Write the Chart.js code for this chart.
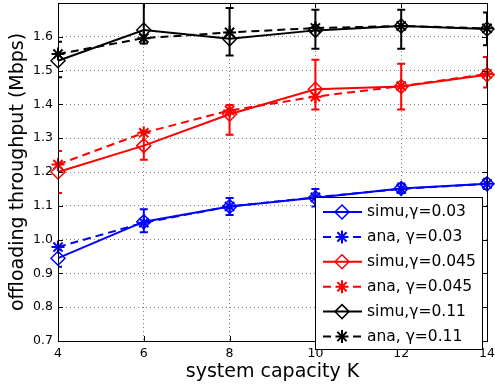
<!DOCTYPE html>
<html>
<head>
<meta charset="utf-8">
<script src="https://cdn.jsdelivr.net/npm/chart.js@4"></script>
<style>
  body { margin: 0; background: #fff; }
  canvas { display: block; }
</style>
</head>
<body>
<canvas id="myChart" width="495" height="389"></canvas>
<script>
// data
const capacity = [4, 6, 8, 10, 12, 14];
const xTicks = [4, 6, 8, 10, 12, 14];
const yTicks = [0.7, 0.8, 0.9, 1.0, 1.1, 1.2, 1.3, 1.4, 1.5, 1.6];

const simu003 = [0.945, 1.053, 1.098, 1.124, 1.151, 1.165];
const simu003Lo = [0.920, 1.022, 1.073, 1.098, 1.138, 1.150];
const simu003Hi = [0.970, 1.090, 1.123, 1.150, 1.166, 1.180];
const ana003 = [0.978, 1.050, 1.098, 1.125, 1.150, 1.165];

const simu0045 = [1.200, 1.278, 1.371, 1.445, 1.453, 1.488];
const simu0045Lo = [1.138, 1.236, 1.310, 1.385, 1.385, 1.450];
const simu0045Hi = [1.262, 1.322, 1.398, 1.532, 1.520, 1.540];
const ana0045 = [1.222, 1.316, 1.382, 1.423, 1.454, 1.490];

const simu011 = [1.529, 1.620, 1.594, 1.619, 1.632, 1.623];
const simu011Lo = [1.480, 1.580, 1.545, 1.565, 1.565, 1.575];
const simu011Hi = [1.585, 1.720, 1.685, 1.680, 1.680, 1.672];
const ana011 = [1.549, 1.596, 1.613, 1.626, 1.632, 1.625];

const FONT = 'DejaVu Sans';

function toPoints(values) {
  return capacity.map((k, i) => ({ x: k, y: values[i] }));
}

function simuSet(label, values, lo, hi, color) {
  return {
    label,
    data: toPoints(values),
    borderColor: color,
    borderWidth: 2,
    pointStyle: 'rectRot',
    pointRadius: 7,
    pointBorderWidth: 1.5,
    pointBackgroundColor: 'rgba(0,0,0,0)',
    pointBorderColor: color,
    errLo: lo,
    errHi: hi,
    clip: false,
  };
}

function anaSet(label, values, color) {
  return {
    label,
    data: toPoints(values),
    borderColor: color,
    borderWidth: 2,
    borderDash: [8, 5],
    pointStyle: 'star',
    pointRadius: 6.5,
    pointBorderWidth: 2,
    pointBorderColor: color,
    clip: false,
  };
}

// MATLAB style error bars, clipped to the axes box
const errorBars = {
  id: 'errorBars',
  beforeDatasetsDraw(chart) {
    const { ctx, chartArea: a, scales: { x, y } } = chart;
    ctx.save();
    ctx.beginPath();
    ctx.rect(a.left, a.top, a.right - a.left, a.bottom - a.top);
    ctx.clip();
    chart.data.datasets.forEach((ds) => {
      if (!ds.errLo) return;
      ctx.strokeStyle = ds.borderColor;
      ctx.lineWidth = 2;
      capacity.forEach((k, i) => {
        const px = x.getPixelForValue(k);
        const lo = y.getPixelForValue(ds.errLo[i]);
        const hi = y.getPixelForValue(ds.errHi[i]);
        ctx.beginPath();
        ctx.moveTo(px, lo); ctx.lineTo(px, hi);
        ctx.moveTo(px - 4, lo); ctx.lineTo(px + 4, lo);
        ctx.moveTo(px - 4, hi); ctx.lineTo(px + 4, hi);
        ctx.stroke();
      });
    });
    ctx.restore();
  },
};

function drawMarker(ctx, style, cx, cy, r) {
  ctx.beginPath();
  if (style === 'rectRot') {
    ctx.moveTo(cx, cy - r); ctx.lineTo(cx + r, cy);
    ctx.lineTo(cx, cy + r); ctx.lineTo(cx - r, cy);
    ctx.closePath();
  } else {
    const d = r * Math.SQRT1_2;
    ctx.moveTo(cx - r, cy); ctx.lineTo(cx + r, cy);
    ctx.moveTo(cx, cy - r); ctx.lineTo(cx, cy + r);
    ctx.moveTo(cx - d, cy - d); ctx.lineTo(cx + d, cy + d);
    ctx.moveTo(cx - d, cy + d); ctx.lineTo(cx + d, cy - d);
  }
  ctx.stroke();
}

// box, inward ticks and the legend
const frameAndLegend = {
  id: 'frameAndLegend',
  afterDraw(chart) {
    const { ctx, chartArea: a, scales: { x, y } } = chart;
    ctx.save();
    ctx.strokeStyle = '#000';
    ctx.lineWidth = 1;
    ctx.setLineDash([]);
    ctx.strokeRect(a.left + 0.5, a.top + 0.5, a.right - a.left, a.bottom - a.top);
    ctx.beginPath();
    xTicks.forEach((v) => {
      const px = Math.round(x.getPixelForValue(v)) + 0.5;
      ctx.moveTo(px, a.bottom); ctx.lineTo(px, a.bottom - 5);
      ctx.moveTo(px, a.top); ctx.lineTo(px, a.top + 5);
    });
    yTicks.forEach((v) => {
      const py = Math.round(y.getPixelForValue(v)) + 0.5;
      ctx.moveTo(a.left, py); ctx.lineTo(a.left + 5, py);
      ctx.moveTo(a.right, py); ctx.lineTo(a.right - 5, py);
    });
    ctx.stroke();

    // legend
    const box = { left: 315, top: 197, right: 482, bottom: 349 };
    ctx.fillStyle = '#fff';
    ctx.fillRect(box.left, box.top, box.right - box.left, box.bottom - box.top);
    ctx.strokeRect(box.left + 0.5, box.top + 0.5, box.right - box.left, box.bottom - box.top);
    ctx.font = '15.5px "' + FONT + '"';
    ctx.textBaseline = 'middle';
    chart.data.datasets.forEach((ds, i) => {
      const cy = 212 + i * 24.9;
      ctx.strokeStyle = ds.borderColor;
      ctx.lineWidth = 2;
      ctx.beginPath();
      if (ds.borderDash) {
        ctx.moveTo(323, cy); ctx.lineTo(331, cy);
        ctx.moveTo(353, cy); ctx.lineTo(361, cy);
      } else {
        ctx.moveTo(323, cy); ctx.lineTo(362, cy);
      }
      ctx.stroke();
      ctx.lineWidth = ds.pointBorderWidth;
      drawMarker(ctx, ds.pointStyle, 342, cy, ds.pointRadius);
      ctx.fillStyle = '#000';
      ctx.fillText(ds.label, 367, cy);
    });
    ctx.restore();
  },
};

const datasets = [
  simuSet('simu,γ=0.03', simu003, simu003Lo, simu003Hi, '#0000ff'),
  anaSet('ana, γ=0.03', ana003, '#0000ff'),
  simuSet('simu,γ=0.045', simu0045, simu0045Lo, simu0045Hi, '#ff0000'),
  anaSet('ana, γ=0.045', ana0045, '#ff0000'),
  simuSet('simu,γ=0.11', simu011, simu011Lo, simu011Hi, '#000000'),
  anaSet('ana, γ=0.11', ana011, '#000000'),
];

const gridOpts = { color: 'rgba(0,0,0,0.5)', lineWidth: 1, drawTicks: false };
const borderOpts = { display: false, dash: [1, 3] };

const config = {
  type: 'line',
  data: { datasets },
  options: {
    responsive: false,
    animation: false,
    layout: { autoPadding: false, padding: { left: 0, right: 8, top: 3, bottom: 0 } },
    plugins: {
      legend: { display: false },
      tooltip: { enabled: false },
    },
    scales: {
      x: {
        type: 'linear',
        min: 4,
        max: 14,
        grid: gridOpts,
        border: borderOpts,
        afterBuildTicks: (scale) => { scale.ticks = xTicks.map((v) => ({ value: v })); },
        afterFit: (scale) => {
          scale.height = 48;
          scale.paddingLeft = 0;
          scale.paddingRight = 0;
        },
        ticks: { font: { family: FONT, size: 12.5 }, color: '#000', padding: 5, maxRotation: 0 },
        title: {
          display: true,
          text: 'system capacity K',
          font: { family: FONT, size: 19 },
          color: '#000',
          padding: { top: 0, bottom: 6 },
        },
      },
      y: {
        min: 0.7,
        max: 1.7,
        grid: gridOpts,
        border: borderOpts,
        afterBuildTicks: (scale) => { scale.ticks = yTicks.map((v) => ({ value: v })); },
        afterFit: (scale) => {
          scale.width = 58;
          scale.paddingTop = 0;
          scale.paddingBottom = 0;
        },
        ticks: { font: { family: FONT, size: 12.5 }, color: '#000', padding: 5 },
        title: {
          display: true,
          text: 'offloading throughput (Mbps)',
          font: { family: FONT, size: 19 },
          color: '#000',
          padding: { top: 7, bottom: 0 },
        },
      },
    },
  },
  plugins: [errorBars, frameAndLegend],
};

const chart = new Chart(document.getElementById('myChart'), config);
</script>
</body>
</html>
